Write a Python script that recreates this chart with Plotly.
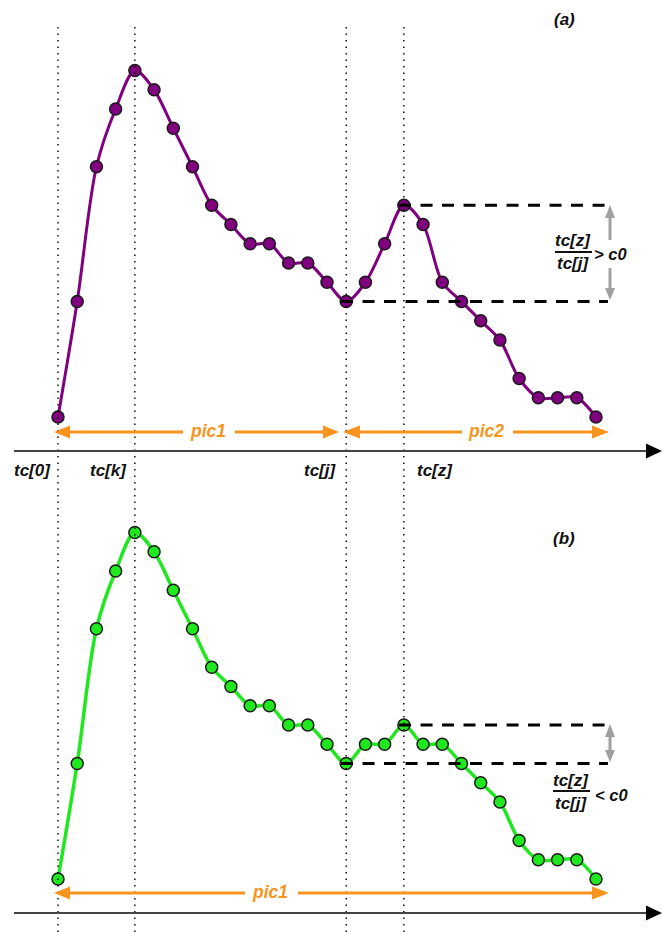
import plotly.graph_objects as go

# ---------------- data ----------------
t_index = list(range(29))
tc_a = [0, 6, 13, 16, 18, 17, 15, 13, 11, 10, 9, 9, 8, 8, 7, 6, 7, 9, 11, 10, 7, 6, 5, 4, 2, 1, 1, 1, 0]
tc_b = [0, 6, 13, 16, 18, 17, 15, 13, 11, 10, 9, 9, 8, 8, 7, 6, 7, 7, 8, 7, 7, 6, 5, 4, 2, 1, 1, 1, 0]
marker_idx = [0, 4, 15, 18]          # tc[0], tc[k], tc[j], tc[z]
marker_labels = ["tc[0]", "tc[k]", "tc[j]", "tc[z]"]
j_idx, z_idx = 15, 18

W, H = 662, 932
PURPLE = "#800080"
GREEN = "#1FE81F"
ORANGE = "#F7941D"
GRAY = "#A0A0A0"
FONT = "Liberation Sans, Arial, Helvetica, sans-serif"


def px(X):
    return X / W


def py(Y):
    return 1 - Y / H


fig = go.Figure()

fig.add_trace(go.Scatter(
    x=t_index, y=tc_a, mode="lines+markers", xaxis="x", yaxis="y",
    line=dict(color=PURPLE, width=3, shape="spline", smoothing=0.9),
    marker=dict(size=12, color=PURPLE, line=dict(color="#1a1a1a", width=1.5)),
    showlegend=False, hoverinfo="skip"))

fig.add_trace(go.Scatter(
    x=t_index, y=tc_b, mode="lines+markers", xaxis="x", yaxis="y2",
    line=dict(color=GREEN, width=3.5, shape="spline", smoothing=0.9),
    marker=dict(size=12, color=GREEN, line=dict(color="#1a1a1a", width=1.5)),
    showlegend=False, hoverinfo="skip"))

shapes = []
annotations = []

# vertical dotted guides
for i in marker_idx:
    shapes.append(dict(type="line", xref="x", yref="paper", x0=i, x1=i,
                       y0=0, y1=py(27), layer="above",
                       line=dict(color="black", width=1.4, dash="1.4px,5.1px")))

# dashed comparison lines
for yref, data in (("y", tc_a), ("y2", tc_b)):
    shapes.append(dict(type="line", xref="x", yref=yref, x0=z_idx - 0.25, x1=28.62,
                       y0=data[z_idx], y1=data[z_idx], layer="above",
                       line=dict(color="black", width=3, dash="12px,9.5px")))
    shapes.append(dict(type="line", xref="x", yref=yref, x0=j_idx - 0.27, x1=28.62,
                       y0=data[j_idx], y1=data[j_idx], layer="above",
                       line=dict(color="black", width=3, dash="12px,9.5px")))


def seg(x0, y0, x1, y1, color, width):
    shapes.append(dict(type="line", xref="paper", yref="paper",
                       x0=px(x0), y0=py(y0), x1=px(x1), y1=py(y1),
                       line=dict(color=color, width=width), layer="above"))


def tri_h(tipx, basex, y, half, color):
    p = "M {},{} L {},{} L {},{} Z".format(px(tipx), py(y), px(basex), py(y - half),
                                            px(basex), py(y + half))
    shapes.append(dict(type="path", xref="paper", yref="paper", path=p,
                       fillcolor=color, line=dict(color=color, width=0), layer="above"))


def tri_v(x, tipy, basey, half, color):
    p = "M {},{} L {},{} L {},{} Z".format(px(x), py(tipy), px(x - half), py(basey),
                                            px(x + half), py(basey))
    shapes.append(dict(type="path", xref="paper", yref="paper", path=p,
                       fillcolor=color, line=dict(color=color, width=0), layer="above"))


# time axes with arrows
for Y in (451, 913):
    seg(14, Y, 648, Y, "#444444", 2)
    tri_h(662, 646, Y, 7.5, "black")

# orange span arrows (top)
seg(68, 432, 183, 432, ORANGE, 3)
seg(235, 432, 325, 432, ORANGE, 3)
tri_h(54, 70, 432, 6.5, ORANGE)
tri_h(339, 323, 432, 6.5, ORANGE)
seg(358, 432, 462, 432, ORANGE, 3)
seg(513, 432, 594, 432, ORANGE, 3)
tri_h(343, 360, 432, 6.5, ORANGE)
tri_h(609, 592, 432, 6.5, ORANGE)
# bottom
seg(68, 893, 245, 893, ORANGE, 3)
seg(298, 893, 594, 893, ORANGE, 3)
tri_h(54, 70, 893, 6.5, ORANGE)
tri_h(609, 592, 893, 6.5, ORANGE)

# gray ratio arrows
seg(610, 216, 610, 240, GRAY, 3)
seg(610, 268, 610, 290, GRAY, 3)
tri_v(610, 205, 218, 5, GRAY)
tri_v(610, 300, 288, 5, GRAY)
seg(610, 735, 610, 753, GRAY, 3)
tri_v(610, 724, 737, 5, GRAY)
tri_v(610, 762, 750, 5, GRAY)

# fraction bars
seg(555, 252, 592, 252, "#111111", 2)
seg(553, 791, 590, 791, "#111111", 2)


def txt(X, Y, s, size=17, color="#111111", xanchor="center"):
    annotations.append(dict(x=px(X), y=py(Y), xref="paper", yref="paper",
                            text="<b><i>" + s + "</i></b>", showarrow=False,
                            xanchor=xanchor, yanchor="middle",
                            font=dict(family=FONT, size=size, color=color)))


txt(564, 19, "(a)")
txt(564, 538, "(b)")
for X, lab in zip((32, 109, 320, 435), marker_labels):
    txt(X, 470, lab, size=17)
txt(208, 431, "pic1", size=17.5, color=ORANGE)
txt(486, 431, "pic2", size=17.5, color=ORANGE)
txt(270, 892, "pic1", size=17.5, color=ORANGE)

txt(573, 241, "tc[z]")
txt(573, 264, "tc[j]")
txt(592, 254, "&gt; c0", size=16.5, xanchor="left")
txt(571, 780, "tc[z]")
txt(571, 803, "tc[j]")
txt(593, 795, "&lt; c0", size=16.5, xanchor="left")

sx = (596 - 58) / 28.0
sy = 19.25
x_range = [-58 / sx, (W - 58) / sx]
ya_range = [(417 - 466) / sy, 417 / sy]
yb_range = [(879 - 932) / sy, (879 - 466) / sy]

fig.update_layout(
    width=W, height=H,
    margin=dict(l=0, r=0, t=0, b=0),
    paper_bgcolor="white", plot_bgcolor="white",
    xaxis=dict(range=x_range, visible=False, fixedrange=True, domain=[0, 1]),
    yaxis=dict(range=ya_range, visible=False, domain=[0.5, 1], anchor="x"),
    yaxis2=dict(range=yb_range, visible=False, domain=[0, 0.5], anchor="x"),
    shapes=shapes, annotations=annotations,
    showlegend=False,
)

fig.write_html("out.html", config={"displayModeBar": False},
               post_script="document.body.style.margin='0';document.body.style.overflow='hidden';")
